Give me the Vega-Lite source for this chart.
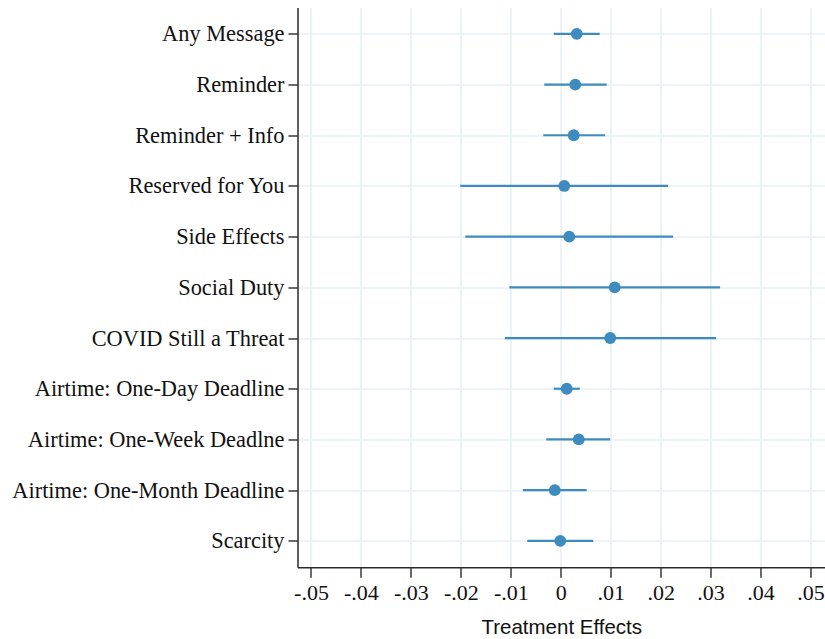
{
  "$schema": "https://vega.github.io/schema/vega-lite/v6.json",
  "autosize": {"type": "none"},
  "padding": {"left": 297.5, "top": 7.5, "right": 0, "bottom": 72},
  "width": 527.5,
  "height": 559.7,
  "background": "white",
  "config": {
    "view": {"stroke": null},
    "axis": {
      "domainColor": "#2a2a2a",
      "domainWidth": 1.5,
      "tickColor": "#2a2a2a",
      "tickWidth": 1.4,
      "gridColor": "#e7f0f2",
      "gridWidth": 1.6,
      "labelColor": "#111111",
      "labelFont": "Liberation Serif",
      "labelFontSize": 22
    }
  },
  "data": {
    "values": [
      {"label": "Any Message", "est": 0.0032, "lo": -0.0014, "hi": 0.0078},
      {"label": "Reminder", "est": 0.0029, "lo": -0.0033, "hi": 0.0092},
      {"label": "Reminder + Info", "est": 0.0026, "lo": -0.0035, "hi": 0.0089},
      {"label": "Reserved for You", "est": 0.0007, "lo": -0.0201, "hi": 0.0215},
      {"label": "Side Effects", "est": 0.0017, "lo": -0.0191, "hi": 0.0225},
      {"label": "Social Duty", "est": 0.0108, "lo": -0.0103, "hi": 0.0319},
      {"label": "COVID Still a Threat", "est": 0.0099, "lo": -0.0112, "hi": 0.0311},
      {"label": "Airtime: One-Day Deadline", "est": 0.0012, "lo": -0.0014, "hi": 0.0038},
      {"label": "Airtime: One-Week Deadlne", "est": 0.0036, "lo": -0.0029, "hi": 0.0099},
      {"label": "Airtime: One-Month Deadline", "est": -0.0012, "lo": -0.0076, "hi": 0.0052},
      {"label": "Scarcity", "est": -0.0001, "lo": -0.0067, "hi": 0.0065}
    ]
  },
  "encoding": {
    "y": {
      "field": "label",
      "type": "nominal",
      "sort": null,
      "scale": {"type": "point", "padding": 0.52},
      "axis": {
        "title": null,
        "grid": true,
        "tickSize": 9.5,
        "labelPadding": 4,
        "labelFontSize": 22.4,
        "labelLimit": 400
      }
    }
  },
  "layer": [
    {
      "mark": {"type": "rule", "color": "#3d8bbf", "strokeWidth": 2.2},
      "encoding": {
        "x": {
          "field": "lo",
          "type": "quantitative",
          "scale": {"domain": [-0.0527, 0.0529], "nice": false, "zero": false},
          "axis": {
            "title": "Treatment Effects",
            "titleFont": "Liberation Sans",
            "titleFontSize": 20.5,
            "titleFontWeight": "normal",
            "titleColor": "#111111",
            "titlePadding": 14,
            "values": [-0.05, -0.04, -0.03, -0.02, -0.01, 0, 0.01, 0.02, 0.03, 0.04, 0.05],
            "labelExpr": "datum.value == 0 ? '0' : (datum.value < 0 ? '-' : '') + replace(format(abs(datum.value), '.2f'), '0.', '.')",
            "grid": true,
            "tickSize": 10,
            "labelPadding": 5,
            "labelFontSize": 22,
            "labelFlush": false
          }
        },
        "x2": {"field": "hi"}
      }
    },
    {
      "mark": {"type": "rule", "color": "#c0374f", "strokeWidth": 2},
      "encoding": {
        "x": {"datum": 0, "type": "quantitative"}
      }
    },
    {
      "mark": {"type": "point", "filled": true, "opacity": 1, "color": "#3d8bbf", "size": 140},
      "encoding": {
        "x": {"field": "est", "type": "quantitative"}
      }
    }
  ]
}
